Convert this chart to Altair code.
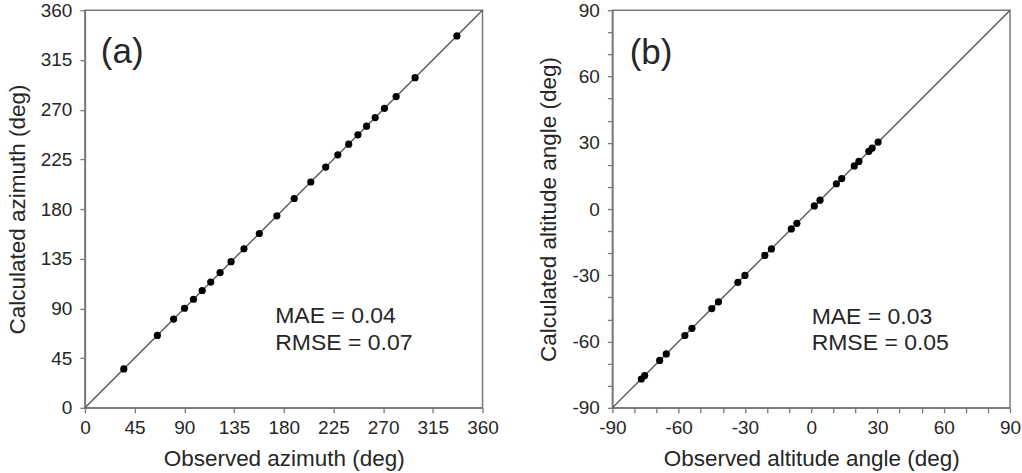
import altair as alt
import pandas as pd

# Panel (a): azimuth
az_obs = [35.2, 65.6, 80.3, 90.2, 98.3, 106.2, 113.9, 122.4, 132.3, 144.0,
          157.9, 173.8, 189.5, 204.5, 218.0, 229.0, 238.8, 247.2, 255.0,
          262.8, 271.2, 281.8, 298.9, 336.8]
az_calc = [35.25, 65.55, 80.35, 90.15, 98.3, 106.25, 113.85, 122.45, 132.3, 144.05,
           157.85, 173.8, 189.55, 204.45, 218.0, 229.1, 238.75, 247.2, 255.05,
           262.8, 271.15, 281.85, 298.9, 336.7]

# Panel (b): altitude angle
alt_obs = [-76.9, -75.4, -68.6, -65.6, -57.2, -54.0, -45.0, -42.0, -33.2, -30.0,
           -21.0, -18.0, -9.0, -6.5, 1.4, 4.0, 11.4, 13.8, 19.5, 21.6, 26.1, 27.6, 30.3]
alt_calc = [-76.95, -75.4, -68.55, -65.6, -57.25, -54.0, -45.05, -42.0, -33.2, -30.05,
            -21.0, -18.05, -9.0, -6.45, 1.4, 4.0, 11.45, 13.8, 19.5, 21.55, 26.1, 27.6, 30.3]

az_ticks = list(range(0, 361, 45))
alt_ticks = list(range(-90, 91, 10))

az_text = ["MAE = 0.04", "RMSE = 0.07"]
alt_text = ["MAE = 0.03", "RMSE = 0.05"]

FONT = "Liberation Sans"
AXIS_COLOR = "#7a7a7a"
TEXT_COLOR = "#262626"
W = 398
H = 398


def panel(obs, calc, lo, hi, ticks, label_expr, xtitle, ytitle, tag, tag_pos,
          stats, stats_pos):
    pts = pd.DataFrame({"obs": obs, "calc": calc})
    diag = pd.DataFrame({"obs": [lo, hi], "calc": [lo, hi]})
    axis_kw = dict(values=ticks, labelExpr=label_expr, labelOverlap=False,
                   labelFlush=False, grid=False)
    xs = alt.Scale(domain=[lo, hi], nice=False, zero=False)
    ys = alt.Scale(domain=[lo, hi], nice=False, zero=False)
    xenc = alt.X("obs:Q", scale=xs, title=xtitle, axis=alt.Axis(**axis_kw))
    yenc = alt.Y("calc:Q", scale=ys, title=ytitle, axis=alt.Axis(**axis_kw))

    line = alt.Chart(diag).mark_line(color="#5a5a5a", strokeWidth=1.4).encode(x=xenc, y=yenc)
    dots = alt.Chart(pts).mark_circle(color="black", opacity=1, size=52).encode(x=xenc, y=yenc)

    tag_df = pd.DataFrame({"obs": [tag_pos[0]], "calc": [tag_pos[1]], "t": [tag]})
    tag_mark = alt.Chart(tag_df).mark_text(
        align="left", baseline="alphabetic", fontSize=35, font=FONT, color=TEXT_COLOR
    ).encode(x=xenc, y=yenc, text="t:N")

    st_df = pd.DataFrame({"obs": [stats_pos[0]] * 2,
                          "calc": [stats_pos[1], stats_pos[2]], "t": stats})
    st_mark = alt.Chart(st_df).mark_text(
        align="left", baseline="alphabetic", fontSize=23, font=FONT, color=TEXT_COLOR
    ).encode(x=xenc, y=yenc, text="t:N")

    return alt.layer(line, dots, tag_mark, st_mark).properties(width=W, height=H)


pa = panel(az_obs, az_calc, 0, 360, az_ticks, "'' + datum.value",
           "Observed azimuth (deg)", "Calculated azimuth (deg)",
           "(a)", (14.4, 312), az_text, (172.3, 76.6, 52.7))
pb = panel(alt_obs, alt_calc, -90, 90, alt_ticks,
           "datum.value % 30 == 0 ? '' + datum.value : ''",
           "Observed altitude angle (deg)", "Calculated altitude angle (deg)",
           "(b)", (-82.2, 65.7), alt_text, (0.2, -52.0, -63.9))

chart = alt.hconcat(pa, pb, spacing=130, bounds="flush").configure(
    background="white", padding={"left": 5, "top": 0, "right": 0, "bottom": 1}
).configure_view(
    stroke=AXIS_COLOR, strokeWidth=1.5
).configure_axis(
    domainColor=AXIS_COLOR, domainWidth=1.5, tickColor=AXIS_COLOR, tickWidth=1.3,
    tickSize=5, labelFont=FONT, labelFontSize=19, labelColor=TEXT_COLOR,
    titleFont=FONT, titleFontSize=22.5, titleFontWeight="normal",
    titleColor=TEXT_COLOR, titlePadding=10
).configure_axisX(
    labelPadding=6
).configure_axisY(
    labelPadding=8, titlePadding=11
)

chart.save("out.html", embed_options={"renderer": "svg", "actions": False})
